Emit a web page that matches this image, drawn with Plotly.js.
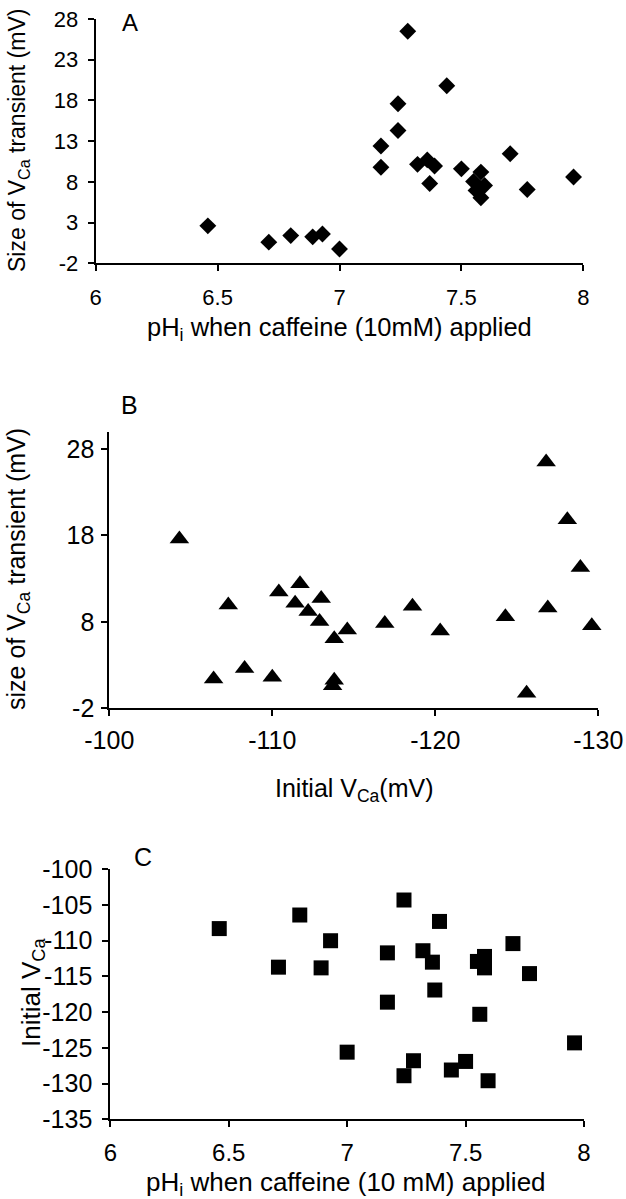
<!DOCTYPE html>
<html>
<head>
<meta charset="utf-8">
<script src="https://cdn.plot.ly/plotly-3.0.1.min.js"></script>
<style>
html,body{margin:0;padding:0;background:#fff;}
#chart{width:626px;height:1199px;}
</style>
</head>
<body>
<div id="chart"></div>
<script>
// Each cell: intracellular pH when caffeine applied, initial V_Ca (mV), size of V_Ca transient (mV)
const phValues = [6.46, 6.71, 6.80, 6.89, 6.93, 7.00, 7.17, 7.17, 7.24, 7.24, 7.28, 7.32, 7.36,
                  7.37, 7.39, 7.44, 7.50, 7.55, 7.58, 7.58, 7.56, 7.595, 7.70, 7.77, 7.96];
const initialVca = [-108.3, -113.7, -106.4, -113.8, -110.0, -125.6, -111.7, -118.6, -104.3, -128.9, -126.8, -111.4, -113.0,
                    -116.9, -107.3, -128.1, -126.9, -112.9, -112.2, -113.8, -120.3, -129.6, -110.4, -114.6, -124.3];
const transientSize = [2.6, 0.6, 1.4, 1.25, 1.6, -0.25, 12.4, 9.8, 17.6, 14.3, 26.5, 10.15, 10.7,
                       7.8, 9.95, 19.8, 9.6, 8.05, 9.2, 6.05, 6.95, 7.55, 11.45, 7.07, 8.6];

const phTicks = [6, 6.5, 7, 7.5, 8];
const sizeTicksA = [-2, 3, 8, 13, 18, 23, 28];
const sizeTicksB = [-2, 8, 18, 28];
const vcaTicksB = [-100, -110, -120, -130];
const vcaTicksC = [-100, -105, -110, -115, -120, -125, -130, -135];

const FONT = 'Liberation Sans, Arial, Helvetica, sans-serif';
const W = 626, H = 1199;
const px = v => v / W;
const py = v => 1 - v / H;

function axisStyle(ticks, fontSize, standoff, extra) {
  return Object.assign({
    showline: true, linecolor: '#000', linewidth: 2,
    ticks: 'outside', ticklen: 6, tickwidth: 2, tickcolor: '#000',
    showgrid: false, zeroline: false, automargin: false,
    tickvals: ticks, ticktext: ticks.map(String),
    ticklabelstandoff: standoff,
    tickfont: {family: FONT, size: fontSize, color: '#000'}
  }, extra);
}

function label(text, x, y, size, angle) {
  return {text: text, x: px(x), y: py(y), xref: 'paper', yref: 'paper', showarrow: false,
          xanchor: 'center', yanchor: 'middle', textangle: angle || 0,
          font: {family: FONT, size: size, color: '#000'}};
}

const traces = [
  {x: phValues, y: transientSize, xaxis: 'x', yaxis: 'y', type: 'scatter', mode: 'markers',
   marker: {symbol: 'diamond', size: 13, color: '#000'}, cliponaxis: false},
  {x: initialVca, y: transientSize, xaxis: 'x2', yaxis: 'y2', type: 'scatter', mode: 'markers',
   marker: {symbol: 'triangle-up', size: 17, color: '#000'}, cliponaxis: false},
  {x: phValues, y: initialVca, xaxis: 'x3', yaxis: 'y3', type: 'scatter', mode: 'markers',
   marker: {symbol: 'square', size: 15, color: '#000'}, cliponaxis: false}
];

const layout = {
  width: W, height: H,
  margin: {l: 0, r: 0, t: 0, b: 0},
  paper_bgcolor: '#fff', plot_bgcolor: '#fff',
  showlegend: false,
  font: {family: FONT, color: '#000'},
  xaxis: axisStyle(phTicks, 22, 7, {domain: [px(95.7), px(583.3)], anchor: 'y', range: [6, 8]}),
  yaxis: axisStyle(sizeTicksA, 22, 5, {domain: [py(263.3), py(19)], anchor: 'x', range: [-2, 28]}),
  xaxis2: axisStyle(vcaTicksB, 25, 3, {domain: [px(109.3), px(598.3)], anchor: 'y2', range: [-100, -130]}),
  yaxis2: axisStyle(sizeTicksB, 25, 2, {domain: [py(708.3), py(431.7)], anchor: 'x2', range: [-2, 30]}),
  xaxis3: axisStyle(phTicks, 24, 5, {domain: [px(110.3), px(584)], anchor: 'y3', range: [6, 8]}),
  yaxis3: axisStyle(vcaTicksC, 25, 5, {domain: [py(1119.3), py(869.3)], anchor: 'x3', range: [-135, -100]}),
  annotations: [
    label('A', 130, 22, 24),
    label('B', 129, 405, 25),
    label('C', 143, 857, 25),
    label('pH<sub>i</sub> when caffeine (10mM) applied', 339.5, 329, 25.5),
    label('Size of V<sub>Ca</sub> transient (mV)', 18, 141, 23, -90),
    label('Initial V<sub>Ca</sub>(mV)', 354, 790, 25),
    label('size of V<sub>Ca</sub> transient (mV)', 18, 569, 25, -90),
    label('pH<sub>i</sub> when caffeine (10 mM) applied', 346, 1183, 26),
    label('Initial V<sub>Ca</sub>', 32, 993, 26, -90)
  ]
};

Plotly.newPlot('chart', traces, layout, {staticPlot: true, displayModeBar: false});
</script>
</body>
</html>
